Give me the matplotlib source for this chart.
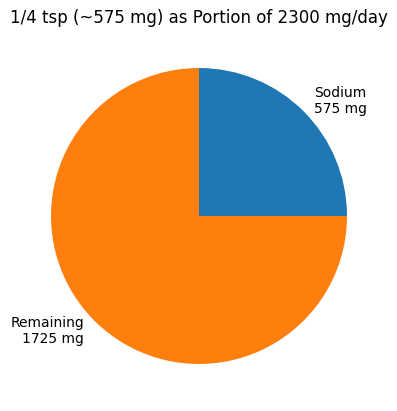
import matplotlib
matplotlib.use("Agg")
import matplotlib.pyplot as plt

labels = ["Sodium\n575 mg", "Remaining\n1725 mg"]
values = [575, 1725]
colors = ["#1f77b4", "#ff7f0e"]

fig = plt.figure(figsize=(3.97, 4.11), dpi=100)
ax = fig.add_axes([14/397, 10/411, 370/397, 370/411])
ax.pie(values, labels=labels, colors=colors, startangle=90, counterclock=False)
ax.set_title("1/4 tsp (~575 mg) as Portion of 2300 mg/day")
ax.set_aspect("equal")
fig.savefig("out.png", dpi=100)
